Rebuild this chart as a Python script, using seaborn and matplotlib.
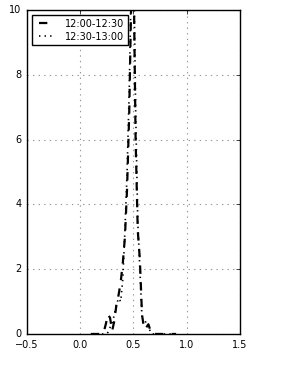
import numpy as np
import pandas as pd
import matplotlib
matplotlib.use("Agg")
import matplotlib.pyplot as plt
import seaborn as sns

x = np.round(np.arange(0.1, 0.901, 0.02), 2)

first_x = [0.20, 0.22, 0.24, 0.26, 0.28, 0.30, 0.32, 0.34, 0.36, 0.38, 0.40, 0.42, 0.44,
           0.46, 0.48, 0.50, 0.52, 0.54, 0.56, 0.58, 0.60, 0.62, 0.64, 0.66, 0.68]
first_y = [0.0, 0.05, 0.3, 0.6, 0.5, 0.1, 0.4, 0.9, 1.2, 1.6, 2.2, 3.0, 4.5,
           6.8, 10.5, 11.5, 6.0, 3.2, 2.3, 0.6, 0.15, 0.2, 0.3, 0.1, 0.0]

second_x = [0.24, 0.26, 0.28, 0.30, 0.32, 0.34, 0.36, 0.38, 0.40, 0.42, 0.44, 0.46, 0.48,
            0.50, 0.52, 0.54, 0.56, 0.58, 0.60, 0.62, 0.64, 0.66, 0.68]
second_y = [0.0, 0.05, 0.2, 0.3, 0.6, 0.9, 1.1, 1.0, 1.7, 3.2, 5.0, 7.5, 11.0,
            12.0, 7.0, 3.5, 2.0, 0.5, 0.3, 0.4, 0.25, 0.05, 0.0]

labels = ["12:00-12:30", "12:30-13:00"]


def full_series(px, py):
    lookup = dict(zip(px, py))
    return [lookup.get(v, 0.0) for v in x]


df = pd.DataFrame({
    "x": np.concatenate([x, x]),
    "density": full_series(first_x, first_y) + full_series(second_x, second_y),
    "period": [labels[0]] * len(x) + [labels[1]] * len(x),
})

plt.style.use("classic")
sns.set_style("white")
plt.rcParams["font.family"] = ["DejaVu Sans"]
plt.rcParams["font.size"] = 7
plt.rcParams["text.color"] = "black"

fig = plt.figure(figsize=(2.81, 3.65), dpi=100, facecolor="white")
ax = fig.add_axes([0.096, 0.085, 0.758, 0.888])

sns.lineplot(data=df[df.period == labels[0]], x="x", y="density", color="black",
             linestyle="--", linewidth=1.6, label=labels[0], ax=ax)
sns.lineplot(data=df[df.period == labels[1]], x="x", y="density", color="black",
             linestyle=":", linewidth=1.2, label=labels[1], ax=ax)

ax.set_xlim(-0.5, 1.5)
ax.set_ylim(0, 10)
ax.set_xticks([-0.5, 0.0, 0.5, 1.0, 1.5])
ax.set_yticks([0, 2, 4, 6, 8, 10])
ax.set_xlabel("")
ax.set_ylabel("")
ax.grid(True, color="#999999", linestyle=":", linewidth=0.8)
ax.tick_params(direction="in", length=3, labelsize=7, top=True, right=True,
               labelcolor="black", color="black")
for s in ax.spines.values():
    s.set_color("black")
    s.set_linewidth(1.0)

leg = ax.legend(loc="upper left", fontsize=7, frameon=True, fancybox=False,
                handlelength=2.2, borderpad=0.4, labelspacing=0.3)
leg.get_frame().set_edgecolor("black")
leg.get_frame().set_linewidth(1.0)
for t in leg.get_texts():
    t.set_color("black")

fig.savefig("out.png", dpi=100, facecolor="white")
